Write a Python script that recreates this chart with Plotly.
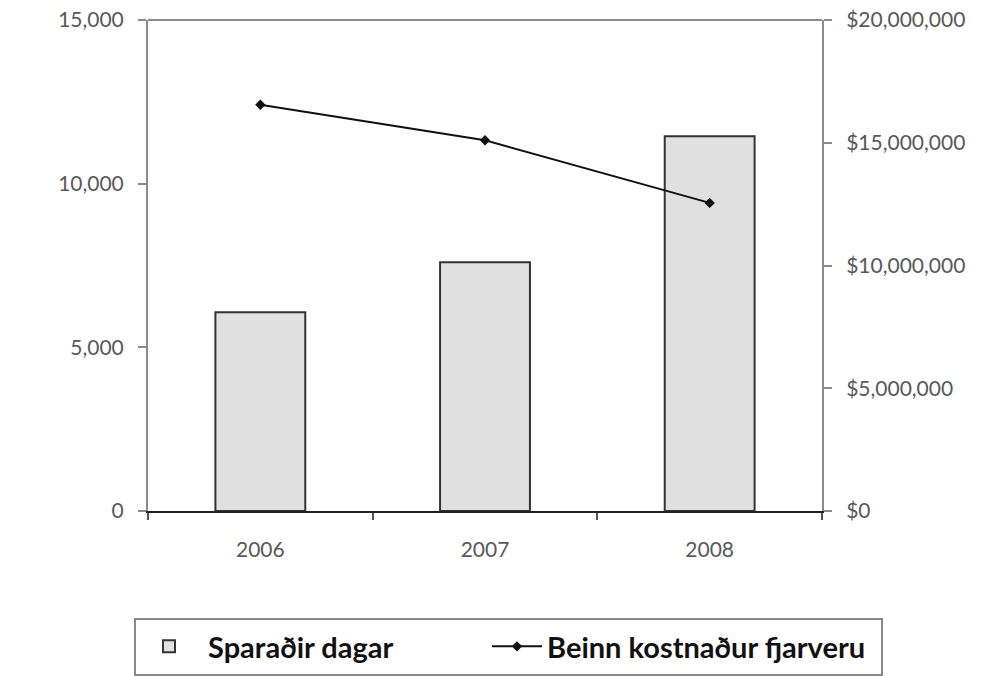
import plotly.graph_objects as go

years = ["2006", "2007", "2008"]
saved_days = [6070, 7600, 11450]
direct_cost = [16550000, 15100000, 12550000]

bar_name = "Sparaðir dagar"
line_name = "Beinn kostnaður fjarveru"

fig = go.Figure()
fig.add_trace(go.Bar(
    x=years, y=saved_days, name="<b>" + bar_name + "</b>",
    marker=dict(color="#e0e0e0", line=dict(color="#333333", width=2)),
    width=0.4, yaxis="y", legend="legend",
))
fig.add_trace(go.Scatter(
    x=years, y=direct_cost, name="<b>" + line_name + "</b>", mode="lines+markers",
    line=dict(color="#111111", width=2),
    marker=dict(symbol="diamond", size=8, color="#111111"),
    yaxis="y2", legend="legend2",
))

tickfont = dict(family="Lato, Open Sans, sans-serif", size=21, color="#595959")
legfont = dict(family="Lato, Open Sans, sans-serif", size=29, color="#111111")
axis_gray = "#8a8a8a"

W, H = 995, 668
L, R, T, B = 140, 181, 12, 165
PW = W - L - R
PH = H - T - B

fig.update_layout(
    width=W, height=H,
    margin=dict(l=L, r=R, t=T, b=B, autoexpand=False),
    paper_bgcolor="white", plot_bgcolor="white",
    showlegend=True,
    xaxis=dict(
        type="category", tickson="boundaries", ticks="outside", ticklen=7,
        tickcolor="#555555", tickwidth=1.5, showline=True, linecolor="#222222",
        linewidth=2, showgrid=False, tickfont=tickfont, ticklabelstandoff=19,
        automargin=False,
    ),
    xaxis2=dict(
        overlaying="x", anchor="y", side="bottom", range=[-0.5, 2.5],
        tickvals=[-0.5, 0.5, 1.5, 2.5], ticks="inside", ticklen=7,
        tickcolor="#555555", tickwidth=1.5, showticklabels=False,
        showgrid=False, zeroline=False, showline=False, automargin=False,
    ),
    yaxis=dict(
        range=[0, 15000], dtick=5000, tickformat=",", showgrid=False,
        zeroline=False, showline=True, linecolor=axis_gray, linewidth=2,
        ticks="outside", ticklen=8, tickcolor=axis_gray, tickwidth=1.5,
        tickfont=tickfont, ticklabelstandoff=10, ticklabeloverflow="allow",
        automargin=False,
    ),
    yaxis2=dict(
        range=[0, 20000000], dtick=5000000, tickformat=",", tickprefix="$",
        overlaying="y", side="right", showgrid=False, zeroline=False,
        showline=True, linecolor=axis_gray, linewidth=2,
        ticks="outside", ticklen=8, tickcolor=axis_gray, tickwidth=1.5,
        tickfont=tickfont, ticklabelstandoff=10, ticklabeloverflow="allow",
        automargin=False,
    ),
    yaxis3=dict(
        range=[0, 15000], dtick=5000, overlaying="y", side="left",
        showgrid=False, zeroline=False, showline=False, showticklabels=False,
        ticks="inside", ticklen=8, tickcolor=axis_gray, tickwidth=1.5,
        automargin=False,
    ),
    yaxis4=dict(
        range=[0, 20000000], dtick=5000000, overlaying="y", side="right",
        showgrid=False, zeroline=False, showline=False, showticklabels=False,
        ticks="inside", ticklen=8, tickcolor=axis_gray, tickwidth=1.5,
        automargin=False,
    ),
    legend=dict(
        orientation="h", xref="container", yref="container",
        x=(130 - 8) / W, xanchor="left",
        y=1 - (621 - 8) / H, yanchor="top",
        font=legfont, bgcolor="rgba(0,0,0,0)", borderwidth=0, itemwidth=68,
    ),
    legend2=dict(
        orientation="h", xref="container", yref="container",
        x=(487 - 8) / W, xanchor="left",
        y=1 - (621 - 8) / H, yanchor="top",
        font=legfont, bgcolor="rgba(0,0,0,0)", borderwidth=0, itemwidth=50,
    ),
    shapes=[
        dict(type="line", xref="paper", yref="paper", x0=0, x1=1, y0=1, y1=1,
             line=dict(color=axis_gray, width=2)),
        dict(type="rect", xref="paper", yref="paper",
             x0=(127 - L) / PW, x1=(874 - L) / PW,
             y0=(T + PH - 667) / PH, y1=(T + PH - 611) / PH,
             line=dict(color="#888888", width=2)),
    ],
)

fig.write_html("out.html")
